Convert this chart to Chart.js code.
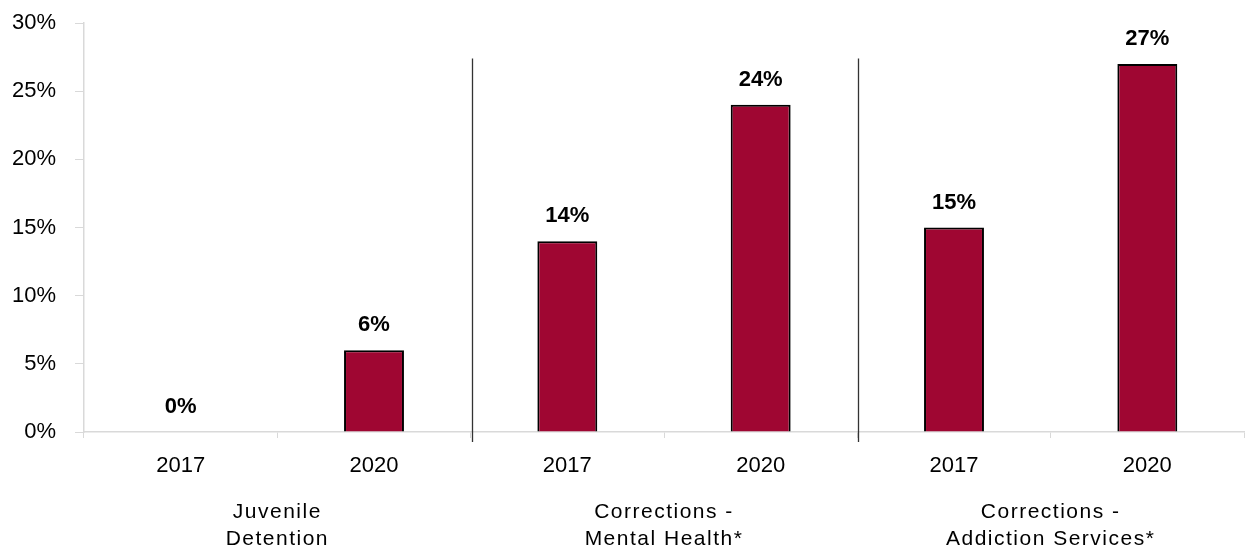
<!DOCTYPE html>
<html>
<head>
<meta charset="utf-8">
<script src="https://cdn.jsdelivr.net/npm/chart.js@4"></script>
<style>
  html, body { margin: 0; padding: 0; background: #fff; }
  #wrap { width: 1246px; height: 553px; }
</style>
</head>
<body>
<div id="wrap"><canvas id="chart"></canvas></div>
<script>
const years = ['2017', '2020', '2017', '2020', '2017', '2020'];
const values = [0, 6, 14, 24, 15, 27];
const groups = [['Juvenile', 'Detention'], ['Corrections -', 'Mental Health*'], ['Corrections -', 'Addiction Services*']];
const yTicks = [0, 5, 10, 15, 20, 25, 30];

const FONT = "'Liberation Sans', Arial, sans-serif";

// value labels over the bars
const barLabels = {
  id: 'barLabels',
  afterDatasetsDraw(chart) {
    const ctx = chart.ctx;
    const meta = chart.getDatasetMeta(0);
    ctx.save();
    ctx.font = 'bold 22px ' + FONT;
    ctx.fillStyle = '#000';
    ctx.textAlign = 'center';
    ctx.textBaseline = 'bottom';
    meta.data.forEach((bar, i) => {
      ctx.fillText(values[i] + '%', bar.x, bar.y - 14);
    });
    ctx.restore();
  }
};

// group separators and group names under the years
const groupAxis = {
  id: 'groupAxis',
  afterDraw(chart) {
    const ctx = chart.ctx;
    const x = chart.scales.x;
    const area = chart.chartArea;
    const y0 = chart.scales.y.getPixelForValue(0);
    const top = chart.scales.y.getPixelForValue(27.4);
    ctx.save();
    ctx.strokeStyle = '#333';
    ctx.lineWidth = 1.3;
    for (let g = 1; g < groups.length; g++) {
      const sx = Math.round((x.getPixelForValue(g * 2 - 1) + x.getPixelForValue(g * 2)) / 2) + 1.5;
      ctx.beginPath();
      ctx.moveTo(sx, top);
      ctx.lineTo(sx, y0 + 10);
      ctx.stroke();
    }
    ctx.font = '21px ' + FONT;
    ctx.letterSpacing = '1.5px';
    ctx.fillStyle = '#000';
    ctx.textAlign = 'center';
    ctx.textBaseline = 'middle';
    groups.forEach((lines, g) => {
      const cx = (x.getPixelForValue(g * 2) + x.getPixelForValue(g * 2 + 1)) / 2;
      lines.forEach((t, k) => {
        ctx.fillText(t, cx, area.bottom + 80 + k * 27);
      });
    });
    ctx.restore();
  }
};

new Chart(document.getElementById('chart'), {
  type: 'bar',
  data: {
    labels: years,
    datasets: [{
      data: values,
      backgroundColor: '#9F0632',
      borderColor: '#000',
      borderWidth: 2,
      barPercentage: 0.31,
      categoryPercentage: 1
    }]
  },
  options: {
    responsive: true,
    maintainAspectRatio: false,
    animation: false,
    layout: { padding: { top: 23, right: 2, left: 0, bottom: 0 } },
    plugins: { legend: { display: false }, tooltip: { enabled: false } },
    scales: {
      x: {
        offset: true,
        grid: { display: true, drawOnChartArea: false, offset: true, color: '#d9d9d9', tickLength: 6 },
        border: { color: '#d9d9d9', width: 1.5 },
        ticks: { color: '#000', font: { family: FONT, size: 22 }, padding: 15, maxRotation: 0 },
        afterFit(scale) { scale.height = 121; scale.paddingLeft = 0; scale.paddingRight = 0; }
      },
      y: {
        min: 0,
        max: 30,
        afterBuildTicks(scale) { scale.ticks = yTicks.map(v => ({ value: v })); },
        grid: { display: true, drawOnChartArea: false, color: '#d9d9d9', tickLength: 9 },
        border: { color: '#d9d9d9', width: 1.5 },
        ticks: {
          color: '#000',
          font: { family: FONT, size: 22 },
          padding: 19,
          callback: v => v + '%'
        },
        afterFit(scale) { scale.width = 84; scale.paddingTop = 0; scale.paddingBottom = 0; }
      }
    }
  },
  plugins: [barLabels, groupAxis]
});
</script>
</body>
</html>
